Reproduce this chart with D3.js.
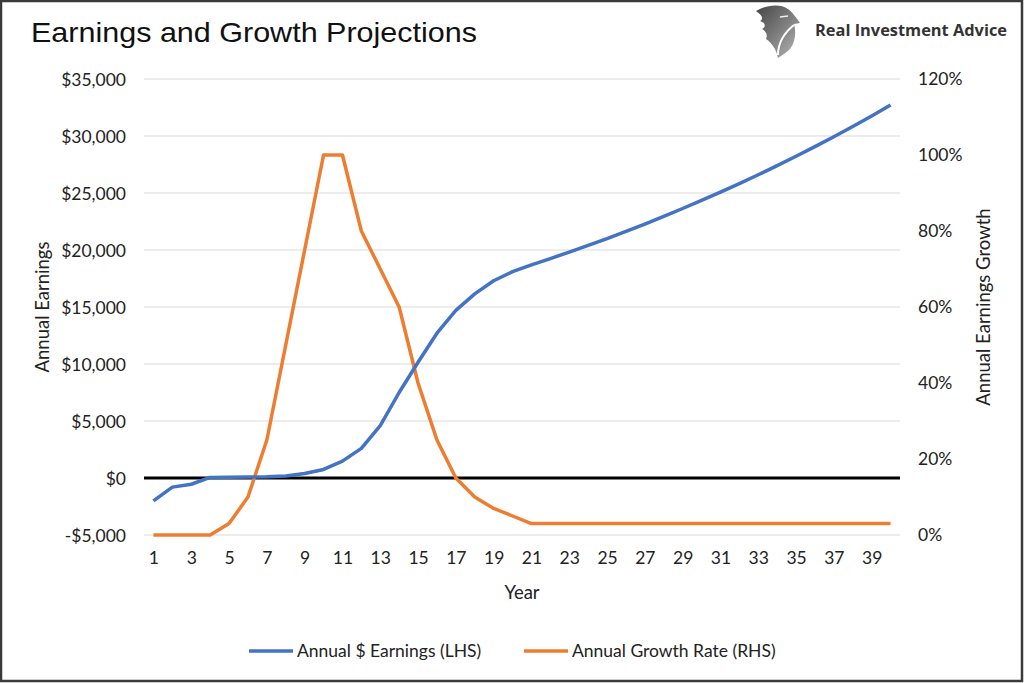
<!DOCTYPE html>
<html>
<head>
<meta charset="utf-8">
<script src="https://cdn.jsdelivr.net/npm/d3@7"></script>
<style>
  body { margin: 0; background: #fff; }
  svg { display: block; }
  .tick text { font-family: Lato, "Open Sans", sans-serif; font-size: 17.5px; fill: #222; }
</style>
</head>
<body>
<svg id="chart" width="1024" height="683"></svg>
<script>
// values
const years = d3.range(1, 41);
const earnings = [-2000, -800, -550, 50, 60, 80, 100, 180, 400, 750,
  1480, 2600, 4600, 7500, 10150, 12700, 14700, 16150, 17300, 18100,
  18700, 19250, 19820, 20400, 21000, 21630, 22280, 22950, 23640, 24350,
  25080, 25830, 26600, 27400, 28220, 29070, 29940, 30840, 31760, 32710];
const growth = [0, 0, 0, 0, 0.03, 0.10, 0.25, 0.50, 0.75, 1.00,
  1.00, 0.80, 0.70, 0.60, 0.40, 0.25, 0.15, 0.10, 0.07, 0.05,
  0.03, 0.03, 0.03, 0.03, 0.03, 0.03, 0.03, 0.03, 0.03, 0.03,
  0.03, 0.03, 0.03, 0.03, 0.03, 0.03, 0.03, 0.03, 0.03, 0.03];
const leftTicks = [-5000, 0, 5000, 10000, 15000, 20000, 25000, 30000, 35000];
const rightTicks = [0, 0.2, 0.4, 0.6, 0.8, 1.0, 1.2];
const yearTicks = years.filter(d => d % 2 === 1);
const seriesNames = ['Annual $ Earnings (LHS)', 'Annual Growth Rate (RHS)'];
const colors = ['#4472C4', '#ED7D31'];

const svg = d3.select('#chart');
const plot = {left: 144, right: 900, top: 79, bottom: 535};

const x = d3.scalePoint().domain(years).range([plot.left, plot.right]).padding(0.5);
const yL = d3.scaleLinear().domain([-5000, 35000]).range([plot.bottom, plot.top]);
const yR = d3.scaleLinear().domain([0, 1.2]).range([plot.bottom, plot.top]);

// outer frame
svg.append('rect').attr('x', 1).attr('y', 1).attr('width', 1021).attr('height', 680)
  .attr('fill', 'none').attr('stroke', '#3a3a3a').attr('stroke-width', 2.5);

// title
svg.append('text').attr('x', 31).attr('y', 42)
  .style('font-family', '"Liberation Sans", Arial, sans-serif').style('font-size', '28px')
  .attr('textLength', 446).attr('lengthAdjust', 'spacingAndGlyphs')
  .attr('fill', '#111').text('Earnings and Growth Projections');

// logo (rough eagle shield)
const defs = svg.append('defs');
const grad = defs.append('linearGradient').attr('id', 'lg')
  .attr('x1', 0).attr('y1', 0).attr('x2', 1).attr('y2', 1);
grad.append('stop').attr('offset', 0).attr('stop-color', '#444');
grad.append('stop').attr('offset', 0.6).attr('stop-color', '#888');
grad.append('stop').attr('offset', 1).attr('stop-color', '#bbb');
const logo = svg.append('g').attr('transform', 'translate(754,3)');
logo.append('path')
  .attr('d', 'M2,8 C12,2 26,0 34,6 C38,9 42,14 46,20 L40,21 C42,28 42,38 36,46 C32,50 28,52 24,55 C22,46 18,40 12,36 C14,32 12,28 8,26 C12,24 12,20 6,18 C10,16 8,12 2,8 Z')
  .attr('fill', 'url(#lg)');
logo.append('path').attr('d', 'M24,52 C24,40 30,30 40,22').attr('stroke', '#fff').attr('stroke-width', 2).attr('fill', 'none');
logo.append('path').attr('d', 'M26,14 L34,13').attr('stroke', '#eee').attr('stroke-width', 1.5);
svg.append('text').attr('x', 815).attr('y', 36)
  .style('font-family', '"Open Sans", sans-serif').style('font-size', '16px').style('font-weight', 'bold')
  .attr('textLength', 192).attr('lengthAdjust', 'spacingAndGlyphs')
  .attr('fill', '#333').text('Real Investment Advice');

// gridlines
svg.append('g').selectAll('line').data(leftTicks.filter(d => d !== 0)).join('line')
  .attr('x1', plot.left).attr('x2', plot.right)
  .attr('y1', d => yL(d)).attr('y2', d => yL(d))
  .attr('stroke', '#d9d9d9').attr('stroke-width', 1);

// zero line
svg.append('line').attr('x1', plot.left).attr('x2', plot.right)
  .attr('y1', yL(0)).attr('y2', yL(0)).attr('stroke', '#000').attr('stroke-width', 3);

// axes
const fmtL = v => (v < 0 ? '-$' : '$') + d3.format(',')(Math.abs(v));
svg.append('g').attr('transform', `translate(${plot.left - 18},0)`)
  .call(d3.axisLeft(yL).tickValues(leftTicks).tickFormat(fmtL).tickSize(0).tickPadding(0))
  .call(g => g.select('.domain').remove())
  .selectAll('text').attr('dy', '0.35em');

svg.append('g').attr('transform', `translate(${plot.right + 18},0)`)
  .call(d3.axisRight(yR).tickValues(rightTicks).tickFormat(d3.format('.0%')).tickSize(0).tickPadding(0))
  .call(g => g.select('.domain').remove());

svg.append('g').attr('transform', `translate(0,${plot.bottom + 13})`)
  .call(d3.axisBottom(x).tickValues(yearTicks).tickSize(0).tickPadding(0))
  .call(g => g.select('.domain').remove())
  .selectAll('text').attr('dy', '0.9em');

// axis titles
const axFont = g => g.style('font-family', 'Lato, "Open Sans", sans-serif').style('font-size', '18.5px').attr('fill', '#222');
svg.append('text').attr('transform', 'translate(49,307) rotate(-90)').attr('text-anchor', 'middle')
  .call(axFont).text('Annual Earnings');
svg.append('text').attr('transform', 'translate(990,307) rotate(-90)').attr('text-anchor', 'middle')
  .call(axFont).text('Annual Earnings Growth');
svg.append('text').attr('x', (plot.left + plot.right) / 2).attr('y', 599).attr('text-anchor', 'middle')
  .call(axFont).text('Year');

// lines
const lineL = d3.line().x((d, i) => x(years[i])).y(d => yL(d));
const lineR = d3.line().x((d, i) => x(years[i])).y(d => yR(d));
svg.append('path').datum(growth).attr('d', lineR)
  .attr('fill', 'none').attr('stroke', colors[1]).attr('stroke-width', 3.5).attr('stroke-linejoin', 'round');
svg.append('path').datum(earnings).attr('d', lineL)
  .attr('fill', 'none').attr('stroke', colors[0]).attr('stroke-width', 3.5).attr('stroke-linejoin', 'round');

// legend
const legendX = [249, 524];
const leg = svg.append('g').selectAll('g').data(seriesNames).join('g')
  .attr('transform', (d, i) => `translate(${legendX[i]},651)`);
leg.append('line').attr('x1', 0).attr('x2', 44).attr('stroke', (d, i) => colors[i]).attr('stroke-width', 3.5);
leg.append('text').attr('x', 48).attr('dy', '0.35em').call(axFont).style('font-size', '17.5px').text(d => d);
</script>
</body>
</html>
